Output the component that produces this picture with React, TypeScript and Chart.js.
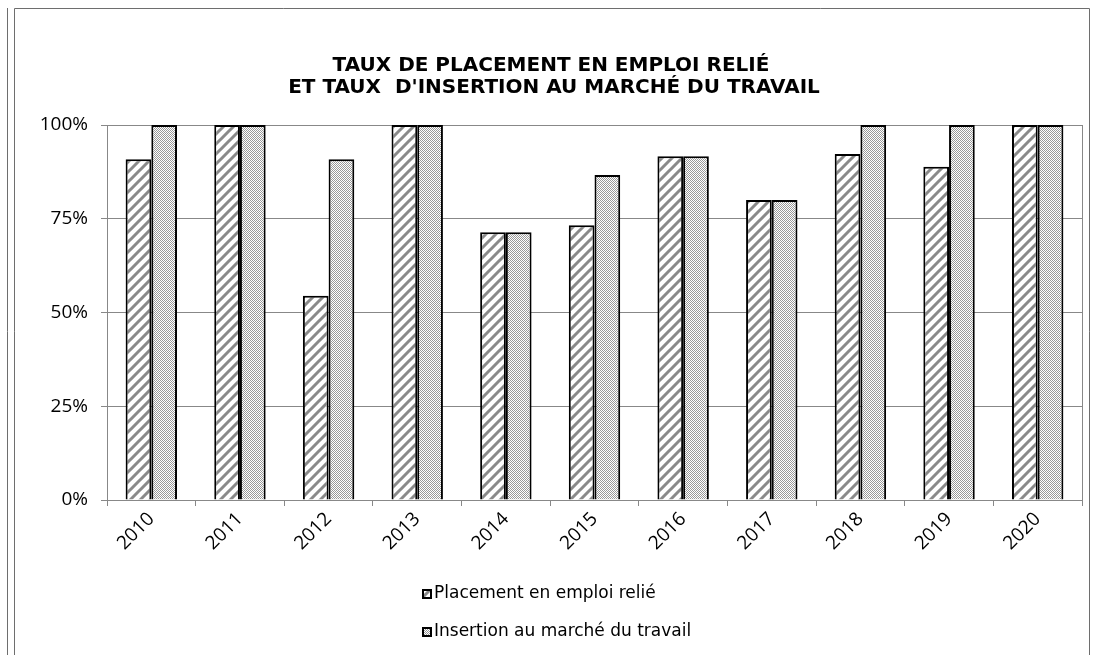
import React, { useEffect, useRef } from "react";
import { Chart, registerables } from "chart.js";

Chart.register(...registerables);

const years = ["2010", "2011", "2012", "2013", "2014", "2015", "2016", "2017", "2018", "2019", "2020"];
const placement = [90.9, 100, 54.5, 100, 71.4, 73.3, 91.7, 80, 92.3, 88.9, 100];
const insertion = [100, 100, 90.9, 100, 71.4, 86.7, 91.7, 80, 100, 100, 100];
const seriesNames = ["Placement en emploi relié", "Insertion au marché du travail"];
const titleLines = ["TAUX DE PLACEMENT EN EMPLOI RELIÉ", "ET TAUX  D'INSERTION AU MARCHÉ DU TRAVAIL"];
const yTickValues = [0, 25, 50, 75, 100];

const W = 1097;
const H = 655;
const FONT = "'Open Sans', 'DejaVu Sans', sans-serif";
const TITLE_FONT = "'DejaVu Sans', sans-serif";

function makeHatch(): CanvasPattern {
  const c = document.createElement("canvas");
  const s = 10;
  c.width = s;
  c.height = s;
  const g = c.getContext("2d")!;
  g.fillStyle = "#ffffff";
  g.fillRect(0, 0, s, s);
  g.strokeStyle = "#8a8a8a";
  g.lineWidth = 3;
  g.beginPath();
  g.moveTo(-2, s + 2);
  g.lineTo(s + 2, -2);
  g.moveTo(-2, 2);
  g.lineTo(2, -2);
  g.moveTo(s - 2, s + 2);
  g.lineTo(s + 2, s - 2);
  g.stroke();
  return g.createPattern(c, "repeat")!;
}

function makeChecker(): CanvasPattern {
  const c = document.createElement("canvas");
  c.width = 2;
  c.height = 2;
  const g = c.getContext("2d")!;
  g.fillStyle = "#ffffff";
  g.fillRect(0, 0, 2, 2);
  g.fillStyle = "#999999";
  g.fillRect(0, 0, 1, 1);
  g.fillRect(1, 1, 1, 1);
  return g.createPattern(c, "repeat")!;
}

export default function App() {
  const ref = useRef<HTMLCanvasElement | null>(null);

  useEffect(() => {
    document.body.style.margin = "0";
    const canvas = ref.current!;
    const hatch = makeHatch();
    const checker = makeChecker();
    const fills = [hatch, checker];

    const framePlugin = {
      id: "frame",
      beforeDraw(chart: any) {
        const ctx = chart.ctx;
        ctx.save();
        ctx.fillStyle = "#fff";
        ctx.fillRect(0, 0, W, H);
        ctx.strokeStyle = "#6e6e6e";
        ctx.lineWidth = 1;
        ctx.beginPath();
        ctx.moveTo(7.5, 8);
        ctx.lineTo(7.5, H);
        ctx.moveTo(14.5, H);
        ctx.lineTo(14.5, 8.5);
        ctx.lineTo(1089.5, 8.5);
        ctx.lineTo(1089.5, H);
        ctx.stroke();
        // title
        ctx.fillStyle = "#000";
        ctx.font = `bold 20px ${TITLE_FONT}`;
        ctx.textAlign = "center";
        ctx.textBaseline = "middle";
        ctx.fillText(titleLines[0], 551, 66);
        ctx.fillText(titleLines[1], 554, 88);
        ctx.restore();
      },
      afterDraw(chart: any) {
        const ctx = chart.ctx;
        const a = chart.chartArea;
        ctx.save();
        ctx.strokeStyle = "#888";
        ctx.lineWidth = 1;
        ctx.beginPath();
        ctx.moveTo(Math.round(a.right) + 0.5, a.top);
        ctx.lineTo(Math.round(a.right) + 0.5, a.bottom);
        ctx.stroke();
        // legend
        const lx = 422;
        const ys = [594, 632];
        ctx.font = `17px ${TITLE_FONT}`;
        ctx.textAlign = "left";
        ctx.textBaseline = "middle";
        seriesNames.forEach((name, i) => {
          const y = ys[i];
          ctx.fillStyle = "#000";
          ctx.fillRect(lx, y - 5, 10, 10);
          ctx.fillStyle = fills[i];
          ctx.fillRect(lx + 2, y - 3, 6, 6);
          ctx.fillStyle = "#000";
          ctx.fillText(name, lx + 12, y);
        });
        ctx.restore();
      },
    };

    const chart = new Chart(canvas, {
      type: "bar",
      data: {
        labels: years,
        datasets: [
          {
            label: seriesNames[0],
            data: placement,
            backgroundColor: hatch as any,
            borderColor: "#000",
            borderWidth: 2,
            categoryPercentage: 0.58,
            barPercentage: 1,
          },
          {
            label: seriesNames[1],
            data: insertion,
            backgroundColor: checker as any,
            borderColor: "#000",
            borderWidth: 2,
            categoryPercentage: 0.58,
            barPercentage: 1,
          },
        ],
      },
      options: {
        animation: false,
        responsive: false,
        devicePixelRatio: 1,
        layout: { padding: { top: 125, right: 15, bottom: 0, left: 0 } },
        plugins: {
          legend: { display: false },
          title: { display: false },
          tooltip: { enabled: false },
        },
        scales: {
          x: {
            afterFit: (s: any) => {
              s.height = 155;
            },
            grid: {
              display: true,
              drawOnChartArea: false,
              drawTicks: true,
              tickLength: 6,
              offset: true,
              color: "#888",
            },
            border: { display: true, color: "#888" },
            ticks: {
              color: "#000",
              font: { family: FONT, size: 19 },
              minRotation: 45,
              maxRotation: 45,
              padding: 2,
            },
          },
          y: {
            min: 0,
            max: 100,
            afterFit: (s: any) => {
              s.width = 107;
            },
            afterBuildTicks: (s: any) => {
              s.ticks = yTickValues.map((v) => ({ value: v }));
            },
            grid: {
              color: "#888",
              drawTicks: true,
              tickLength: 6,
            },
            border: { display: true, color: "#888" },
            ticks: {
              color: "#000",
              font: { family: FONT, size: 19 },
              padding: 13,
              callback: (v: any) => `${v}%`,
            },
          },
        },
      },
      plugins: [framePlugin],
    });
    return () => chart.destroy();
  }, []);

  return (
    <div style={{ position: "absolute", left: 0, top: 0, width: W, height: H }}>
      <canvas ref={ref} width={W} height={H} style={{ width: W, height: H, display: "block" }} />
    </div>
  );
}
